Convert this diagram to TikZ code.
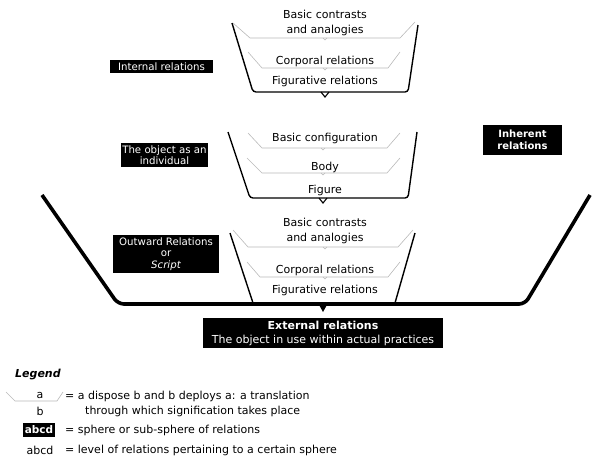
\documentclass[tikz,border=0pt]{standalone}
\usepackage{fontspec}
\setmainfont{DejaVu Sans}
\begin{document}
\begin{tikzpicture}[x=1pt,y=-1pt,
  font=\fontsize{11}{15.5}\selectfont,
  lvl/.style={align=center, inner sep=0pt},
  sphere/.style={fill=black, text=white, align=center, inner sep=1pt, font=\fontsize{10.2}{12}\selectfont},
  funnel/.style={line width=1.4pt, rounded corners=3pt},
  bigfunnel/.style={line width=3.6pt, rounded corners=6pt},
  thinline/.style={gray!55, line width=0.6pt},
  tipline/.style={line width=1.1pt},
  legtext/.style={anchor=west, inner sep=0pt}]
\useasboundingbox (0,0) rectangle (594,461);

% ---------- Funnel 1 ----------
\draw[funnel] (232,23) -- (253,92) -- (408,92) -- (418,25);
\draw[tipline] (321,92) -- (325,97) -- (329,92);
\draw[thinline] (233,23) -- (250,38) -- (400,38) -- (415,22);
\draw[thinline] (323,38) -- (325,40) -- (327,38);
\draw[thinline] (248,52) -- (262,68) -- (388,68) -- (400,52);
\draw[thinline] (323,68) -- (325,70) -- (327,68);
\node[lvl] (f1a) at (325,23) {Basic contrasts\\and analogies};
\node[lvl] (f1b) at (325,61) {Corporal relations};
\node[lvl] (f1c) at (325,81) {Figurative relations};

% ---------- Funnel 2 ----------
\draw[funnel] (228,132) -- (250,198) -- (408,198) -- (417,132);
\draw[tipline] (319,198) -- (323,203) -- (327,198);
\draw[thinline] (248,133) -- (262,148) -- (387,148) -- (400,133);
\draw[thinline] (321,148) -- (323,150) -- (325,148);
\draw[thinline] (247,158) -- (262,173) -- (387,173) -- (400,158);
\draw[thinline] (321,173) -- (323,175) -- (325,173);
\node[lvl] (f2a) at (325,138) {Basic configuration};
\node[lvl] (f2b) at (325,167) {Body};
\node[lvl] (f2c) at (325,190) {Figure};

% ---------- Big funnel ----------
\draw[bigfunnel] (42,195) -- (118,304) -- (525,304) -- (590,195);
\fill (318,303) -- (323,312) -- (328,303) -- cycle;

% ---------- Funnel 3 ----------
\draw[funnel] (230,233) -- (253,303);
\draw[funnel] (415,233) -- (395,303);
\draw[thinline] (233,230) -- (248,247) -- (398,247) -- (413,230);
\draw[thinline] (323,247) -- (325,249) -- (327,247);
\draw[thinline] (247,262) -- (260,277) -- (388,277) -- (400,262);
\draw[thinline] (323,277) -- (325,279) -- (327,277);
\node[lvl] (f3a) at (325,231) {Basic contrasts\\and analogies};
\node[lvl] (f3b) at (325,270) {Corporal relations};
\node[lvl] (f3c) at (325,290) {Figurative relations};

% ---------- Spheres ----------
\node[sphere, minimum width=103pt, minimum height=13pt] (internal) at (161.5,66.5) {Internal relations};
\node[sphere, minimum width=83pt, minimum height=24pt, font=\fontsize{10.2}{11.5}\selectfont] (individual) at (164.5,155) {The object as an\\individual};
\node[sphere, minimum width=79pt, minimum height=30pt, font=\fontsize{10}{12.5}\selectfont\bfseries] (inherent) at (522.5,140) {Inherent\\relations};
\node[sphere, minimum width=106pt, minimum height=38pt, font=\fontsize{10.2}{11.8}\selectfont] (outward) at (166,254) {Outward Relations\\or\\\itshape Script};
\node[sphere, minimum width=240pt, minimum height=30pt, font=\fontsize{11}{14}\selectfont] (external) at (323,333) {\textbf{External relations}\\The object in use within actual practices};

% ---------- Legend ----------
\node[legtext, font=\fontsize{11}{13}\selectfont\bfseries\itshape] (legend) at (15,375) {Legend};
\draw[thinline] (6,392) -- (15,401) -- (57,401) -- (63,392);
\node[lvl] (la) at (40,395) {a};
\node[lvl] (lb) at (40,411) {b};
\node[legtext] (l1) at (65,396) {= a dispose b and b deploys a: a translation};
\node[legtext] (l2) at (85,411) {through which signification takes place};
\node[sphere, minimum width=32pt, minimum height=14pt, font=\fontsize{10.5}{12}\selectfont\bfseries] (lbox) at (39,430) {abcd};
\node[legtext] (l3) at (65,430) {= sphere or sub-sphere of relations};
\node[lvl] (lplain) at (40,450) {abcd};
\node[legtext] (l4) at (65,450) {= level of relations pertaining to a certain sphere};
\end{tikzpicture}
\end{document}
